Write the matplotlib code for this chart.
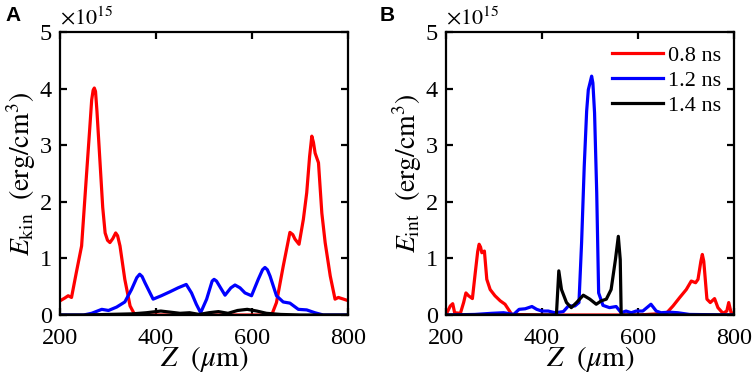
import matplotlib
matplotlib.use("Agg")
import matplotlib.pyplot as plt

plt.rcParams["font.family"] = "serif"
plt.rcParams["font.serif"] = ["Liberation Serif", "STIXGeneral", "DejaVu Serif"]
plt.rcParams["mathtext.fontset"] = "stix"

# values in units of 1e15 erg/cm^3
# panel A: kinetic energy density
kin_z_08 = [200, 210, 217, 224, 234, 245, 255, 262, 266, 269, 271.5, 274, 277, 283, 289, 294, 299,
            304, 310, 316, 320, 325, 335, 346, 356, 400, 500, 600, 641, 651, 665, 679, 685, 689.6,
            698, 707, 714, 720, 724.6, 728, 731.5, 738.5, 745.5, 752.4, 763, 773, 780, 798]
kin_v_08 = [0.25, 0.3, 0.34, 0.31, 0.75, 1.22, 2.45, 3.3, 3.8, 3.97, 4.01, 3.95, 3.6, 2.75, 1.9,
            1.45, 1.32, 1.28, 1.35, 1.45, 1.4, 1.22, 0.63, 0.16, 0.0, 0.0, 0.0, 0.0, 0.0, 0.22, 0.86,
            1.46, 1.42, 1.34, 1.25, 1.69, 2.16, 2.8, 3.16, 3.05, 2.86, 2.69, 1.8, 1.28, 0.69, 0.28,
            0.31, 0.26]
kin_z_12 = [200, 249, 266, 287, 301, 318, 335, 349, 360, 366, 371, 377, 394, 411, 429, 446, 463,
            474, 484, 493, 505.5, 517, 521, 526, 543.8, 556, 564.6, 575, 585.4, 599, 613, 622, 627,
            632, 637.5, 651, 665, 679, 696.5, 714, 731, 748.6, 800]
kin_v_12 = [0.0, 0.0, 0.03, 0.1, 0.08, 0.14, 0.23, 0.45, 0.66, 0.72, 0.68, 0.57, 0.28, 0.34, 0.41,
            0.48, 0.54, 0.39, 0.19, 0.04, 0.28, 0.6, 0.63, 0.6, 0.35, 0.48, 0.53, 0.48, 0.39, 0.34,
            0.63, 0.8, 0.84, 0.8, 0.69, 0.34, 0.23, 0.21, 0.1, 0.09, 0.04, 0.0, 0.0]
kin_z_14 = [200, 250, 300, 350, 380, 410, 430, 450, 470, 490, 510, 530, 550, 570, 590, 610, 630,
            660, 700, 800]
kin_v_14 = [0.0, 0.0, 0.01, 0.02, 0.04, 0.07, 0.05, 0.03, 0.04, 0.01, 0.04, 0.06, 0.03, 0.08, 0.1,
            0.07, 0.03, 0.01, 0.0, 0.0]

# panel B: internal energy density
int_z_08 = [200, 202, 209, 214, 218, 230, 236.7, 241.5, 247, 255, 261, 266, 269, 272, 274.7, 280,
            285, 292, 302, 313, 323, 330, 337, 400, 500, 600, 659, 673, 687, 700.6, 711, 720, 725,
            731, 734, 737, 739, 743.6, 750.6, 759.5, 766.5, 777, 785, 789, 794, 799]
int_v_08 = [0.0, 0.04, 0.16, 0.2, 0.04, 0.03, 0.22, 0.39, 0.34, 0.29, 0.75, 1.12, 1.25, 1.2, 1.1,
            1.13, 0.63, 0.45, 0.34, 0.25, 0.19, 0.1, 0.01, 0.0, 0.0, 0.0, 0.03, 0.16, 0.31, 0.45,
            0.6, 0.57, 0.63, 0.95, 1.07, 0.95, 0.75, 0.28, 0.22, 0.29, 0.13, 0.03, 0.07, 0.22, 0.04,
            0.03]
int_z_12 = [200, 260, 295.5, 320, 341, 352.3, 365, 379, 389, 399.4, 413, 427, 444.4, 455, 468.6,
            477, 482.5, 488, 493, 496.5, 500, 503.4, 506, 509.5, 514, 518, 527, 540.6, 554.5, 565,
            575, 586, 596, 610, 627, 638, 648, 665, 683, 707, 800]
int_v_12 = [0.0, 0.01, 0.03, 0.04, 0.01, 0.1, 0.11, 0.15, 0.1, 0.07, 0.07, 0.04, 0.06, 0.16, 0.16,
            0.22, 1.28, 2.63, 3.6, 3.98, 4.1, 4.22, 4.1, 3.57, 2.16, 0.39, 0.17, 0.13, 0.15, 0.04,
            0.07, 0.04, 0.07, 0.07, 0.19, 0.07, 0.04, 0.05, 0.04, 0.01, 0.0]
int_z_14 = [200, 430, 435, 440.6, 451, 461, 472, 486, 499.7, 513, 523.5, 534, 544, 553, 559, 563,
            565, 600, 800]
int_v_14 = [0.0, 0.0, 0.78, 0.45, 0.22, 0.13, 0.22, 0.35, 0.28, 0.19, 0.25, 0.28, 0.45, 0.98, 1.39,
            0.98, 0.0, 0.0, 0.0]

labels = ["0.8 ns", "1.2 ns", "1.4 ns"]
colors = ["#ff0000", "#0000ff", "#000000"]

fig = plt.figure(figsize=(7.54, 3.84), dpi=100)
axA = fig.add_axes([60 / 754, 69 / 384, 288 / 754, 283 / 384])
axB = fig.add_axes([446 / 754, 69 / 384, 288 / 754, 283 / 384])

for ax, series, ylab in [
    (axA, [(kin_z_08, kin_v_08), (kin_z_12, kin_v_12), (kin_z_14, kin_v_14)],
     r"$E_{\rm kin}\ \ ({\rm erg/cm^3})$"),
    (axB, [(int_z_08, int_v_08), (int_z_12, int_v_12), (int_z_14, int_v_14)],
     r"$E_{\rm int}\ \ ({\rm erg/cm^3})$"),
]:
    for (z, v), c, lab in zip(series, colors, labels):
        ax.plot(z, v, color=c, lw=2.3, label=lab, solid_joinstyle="round")
    ax.set_xlim(200, 800)
    ax.set_ylim(0, 5)
    ax.set_xticks([200, 400, 600, 800])
    ax.set_yticks([0, 1, 2, 3, 4, 5])
    ax.tick_params(direction="in", length=5, width=1.6, top=True, right=True,
                   labelsize=17.5)
    ax.tick_params(axis="x", pad=9)
    ax.tick_params(axis="y", pad=6)
    for s in ax.spines.values():
        s.set_linewidth(1.6)
    ax.set_xlabel(r"$Z\ \ (\mu{\rm m})$", fontsize=21, labelpad=-3)
    ax.set_ylabel(ylab, fontsize=20, labelpad=1)
    ax.text(0.0, 1.01, r"$\times10^{15}$", transform=ax.transAxes, fontsize=16,
            ha="left", va="bottom")

axB.legend(loc="upper right", frameon=False, fontsize=16, handlelength=2.3,
           handletextpad=0.2, labelspacing=0.2, borderaxespad=0.2)

fig.text(5 / 754, 1 - 6 / 384, "A", fontsize=15, fontweight="bold",
         family="Liberation Sans", va="top")
fig.text(380 / 754, 1 - 6 / 384, "B", fontsize=15, fontweight="bold",
         family="Liberation Sans", va="top")

fig.savefig("out.png", dpi=100, facecolor="white")
